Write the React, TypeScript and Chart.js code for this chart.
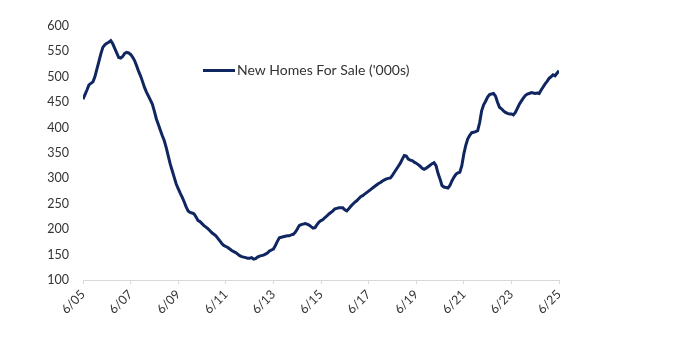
import React, { useEffect, useRef } from "react";
import { Chart, registerables } from "chart.js";

Chart.register(...registerables);

// Monthly values, Jun 2005 .. Jun 2025 ('000s)
const homesForSale: number[] = [
  456, 465, 474, 484, 487, 490, 500, 515, 530, 545, 558, 563,
  566, 568, 571, 565, 556, 547, 538, 537, 540, 546, 548, 547,
  544, 539, 532, 522, 511, 502, 491, 479, 470, 462, 454, 446,
  432, 417, 406, 395, 384, 374, 360, 344, 328, 315, 302, 289,
  280, 271, 263, 254, 244, 236, 233, 232, 230, 224, 217, 215,
  211, 207, 204, 201, 197, 193, 190, 187, 182, 177, 172, 168,
  166, 164, 161, 158, 156, 154, 151, 148, 146, 145, 144, 143,
  143, 144, 141, 142, 145, 147, 148, 149, 151, 153, 157, 159,
  161, 168, 176, 183, 184, 185, 186, 187, 187, 189, 190, 194,
  200, 207, 209, 210, 211, 210, 208, 205, 202, 203, 209, 214,
  217, 219, 223, 226, 230, 233, 236, 240, 241, 242, 242, 242,
  238, 236, 240, 245, 249, 253, 256, 260, 264, 266, 269, 272,
  275, 278, 281, 284, 287, 290, 292, 295, 297, 299, 300, 301,
  306, 312, 318, 324, 330, 338, 345, 344, 338, 336, 335, 332,
  330, 327, 324, 320, 318, 320, 323, 326, 329, 331, 325, 310,
  299, 286, 283, 282, 281, 286, 295, 302, 308, 311, 312, 325,
  348, 365, 378, 385, 390, 391, 392, 394, 410, 433, 445, 452,
  460, 465, 466, 467, 462, 450, 440, 437, 433, 430, 428, 427,
  427, 425, 430, 438, 446, 452, 458, 463, 466, 467, 469, 468,
  467, 468, 467, 474, 480, 486, 491, 497, 500, 504, 502, 507,
  512,
];

const xTickLabels: string[] = [
  "6/05", "6/07", "6/09", "6/11", "6/13", "6/15",
  "6/17", "6/19", "6/21", "6/23", "6/25",
];

const seriesLabel = "New Homes For Sale ('000s)";
const lineColor = "#0f2660";
const textColor = "#333333";
const fontFamily = "Lato, 'Liberation Sans', sans-serif";

const legendPlugin = {
  id: "customLegend",
  afterDraw(chart: any) {
    const ctx = chart.ctx;
    ctx.save();
    const y = 70.5;
    ctx.strokeStyle = lineColor;
    ctx.lineWidth = 3;
    ctx.beginPath();
    ctx.moveTo(203, y);
    ctx.lineTo(235, y);
    ctx.stroke();
    ctx.fillStyle = textColor;
    ctx.font = `14px ${fontFamily}`;
    ctx.textBaseline = "middle";
    ctx.textAlign = "left";
    ctx.fillText(chart.data.datasets[0].label, 237, y);
    ctx.restore();
  },
};

export default function App() {
  const canvasRef = useRef<HTMLCanvasElement | null>(null);

  useEffect(() => {
    if (!canvasRef.current) return;
    const points = homesForSale.map((v, i) => ({ x: i, y: v }));
    const chart = new Chart(canvasRef.current, {
      type: "line",
      data: {
        datasets: [
          {
            label: seriesLabel,
            data: points,
            borderColor: lineColor,
            borderWidth: 3,
            pointRadius: 0,
            tension: 0,
            fill: false,
          },
        ],
      },
      options: {
        animation: false,
        responsive: true,
        maintainAspectRatio: false,
        layout: { padding: { top: 26, right: 132, bottom: 0, left: 0 } },
        plugins: {
          legend: { display: false },
          tooltip: { enabled: false },
        },
        scales: {
          x: {
            type: "linear",
            min: 0,
            max: 240,
            afterFit: (scale: any) => {
              scale.height = 65;
            },
            grid: {
              display: true,
              drawOnChartArea: false,
              drawTicks: true,
              tickLength: 4,
              color: "#d9d9d9",
            },
            border: { display: true, color: "#d9d9d9", width: 1 },
            ticks: {
              stepSize: 24,
              autoSkip: false,
              minRotation: 45,
              maxRotation: 45,
              padding: 3,
              color: textColor,
              font: { family: fontFamily, size: 12.5 },
              callback: (value: any) => {
                const idx = Math.round(Number(value) / 24);
                return xTickLabels[idx] ?? "";
              },
            },
          },
          y: {
            min: 100,
            max: 600,
            afterFit: (scale: any) => {
              scale.width = 83;
            },
            grid: { display: false, drawTicks: false },
            border: { display: false },
            ticks: {
              stepSize: 50,
              padding: 14,
              color: textColor,
              font: { family: fontFamily, size: 12.5 },
            },
          },
        },
      },
      plugins: [legendPlugin],
    });
    return () => chart.destroy();
  }, []);

  return (
    <div style={{ position: "absolute", left: 0, top: 0, width: 691, height: 345, background: "#fff" }}>
      <canvas ref={canvasRef} />
    </div>
  );
}
